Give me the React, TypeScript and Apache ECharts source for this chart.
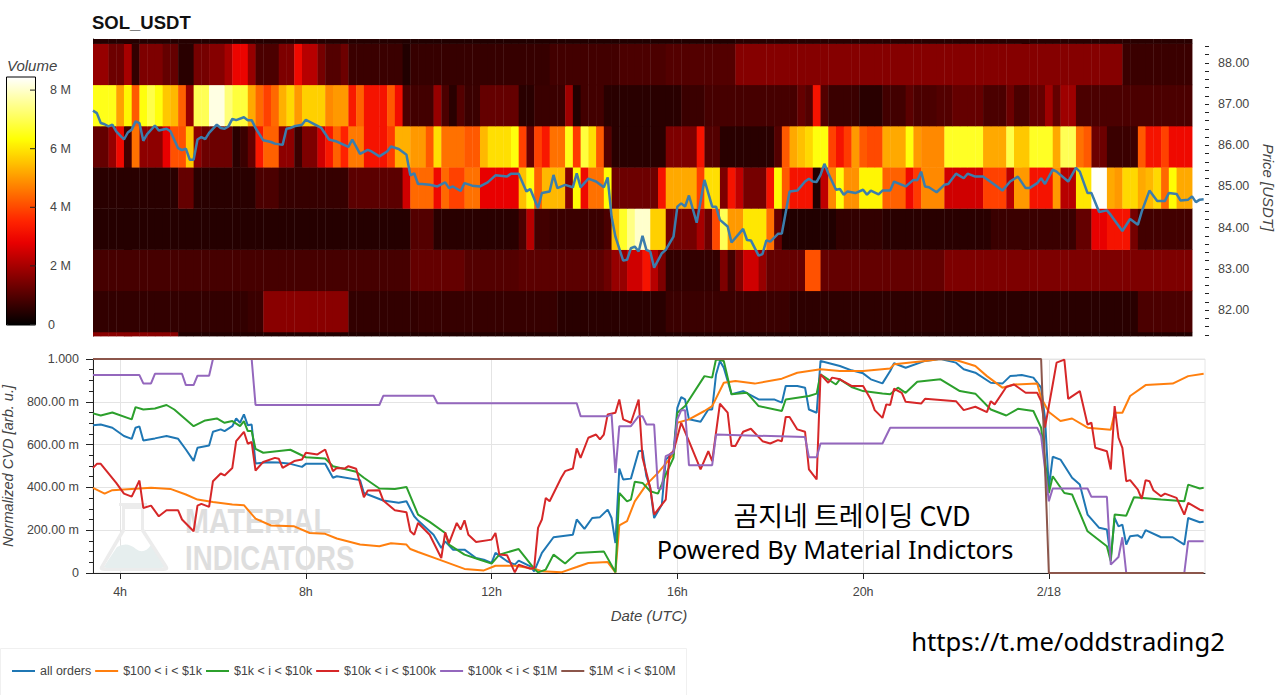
import React, { useEffect, useRef } from "react";
import * as echarts from "echarts";

// x unit: 5-minute sample index (sample 7 = 04:00 UTC). Heat columns span 2 samples (10 minutes).
const lastSample = 287.35;
const tickSamples = [7, 55, 103, 151, 199, 247];
const tickLabels = ["4h", "8h", "12h", "16h", "20h", "2/18"];

const priceTicks = [82, 83, 84, 85, 86, 87, 88];
const priceMinorTicks = [81.4, 81.6, 81.8, 82, 82.2, 82.4, 82.6, 82.8, 83, 83.2, 83.4, 83.6, 83.8, 84, 84.2, 84.4, 84.6, 84.8, 85, 85.2, 85.4, 85.6, 85.8, 86, 86.2, 86.4, 86.6, 86.8, 87, 87.2, 87.4, 87.6, 87.8, 88, 88.2, 88.4];
const priceMin = 81.37;
const priceMax = 88.58;
const priceEdges = [81.37, 81.47, 82.47, 83.47, 84.47, 85.47, 86.47, 87.47, 88.47, 88.58];
const columnCount = 142;

// Volume (millions) per price bin, as [first column, volume] holds.
const row81 = [[0, 1.65], [11, 0.4]];
const row82 = [[0, 0.6], [20, 0.7], [22, 1.65], [33, 0.6], [42, 0.65], [60, 0.5], [74, 0.7], [90, 0.55], [110, 0.5], [135, 0.9]];
const row83 = [[0, 0.85], [41, 1.2], [48, 1.0], [55, 1.1], [66, 1.3], [67, 1.8], [69, 2.5], [71, 3.2], [72, 2.2], [73, 1.5], [74, 0.6], [81, 1.5], [82, 0.8], [83, 1.5], [84, 2.5], [86, 1.8], [87, 1.2], [92, 4.1], [94, 1.2], [110, 1.5]];
const row84 = [[0, 0.45], [41, 1.0], [44, 0.5], [55, 0.9], [56, 2.2], [57, 0.8], [59, 0.7], [66, 0.9], [67, 5.5], [68, 6.6], [69, 7.4], [70, 8.0], [72, 5.7], [74, 1.4], [78, 2.0], [79, 1.3], [80, 4.0], [81, 7.0], [82, 5.0], [84, 6.0], [87, 4.5], [88, 1.2], [89, 0.4], [96, 0.6], [102, 0.5], [116, 0.7], [127, 1.2], [129, 2.8], [131, 3.2], [134, 1.4], [135, 0.8]];
const row85 = [[0, 0.5], [11, 1.2], [13, 0.5], [21, 0.9], [24, 0.65], [33, 1.1], [40, 2.5], [41, 4.4], [44, 3.0], [45, 4.4], [46, 3.9], [48, 4.5], [50, 2.8], [55, 5.5], [56, 6.4], [57, 4.3], [58, 5.4], [61, 1.6], [62, 6.3], [63, 3.0], [64, 4.5], [66, 6.3], [67, 1.3], [73, 3.2], [74, 5.2], [78, 3.9], [79, 5.9], [81, 1.5], [82, 3.2], [83, 2.3], [84, 1.4], [87, 3.2], [88, 6.3], [89, 4.2], [90, 3.2], [93, 0.4], [94, 2.3], [95, 4.8], [96, 6.4], [97, 4.9], [99, 6.2], [102, 4.3], [105, 3.0], [106, 3.8], [107, 4.8], [110, 2.5], [115, 3.9], [118, 2.2], [119, 5.0], [121, 3.2], [124, 5.0], [125, 2.2], [127, 6.0], [129, 8.4], [131, 5.2], [132, 5.0], [133, 5.8], [135, 5.2], [136, 5.4], [137, 5.8], [138, 4.4], [139, 6.3], [140, 5.2]];
const row86 = [[0, 1.2], [2, 1.8], [3, 3.0], [4, 0.8], [5, 4.5], [6, 1.7], [9, 2.8], [10, 4.1], [12, 5.6], [13, 1.7], [14, 1.3], [18, 0.5], [19, 0.7], [20, 1.2], [21, 3.3], [22, 4.3], [24, 1.7], [26, 0.7], [27, 1.5], [29, 2.5], [30, 3.3], [31, 4.3], [32, 3.5], [33, 4.6], [35, 3.2], [38, 3.8], [39, 5.3], [41, 5.0], [43, 4.2], [44, 5.9], [45, 4.5], [48, 4.2], [50, 5.4], [51, 5.9], [54, 6.4], [55, 3.9], [56, 1.2], [57, 3.9], [58, 3.3], [59, 4.5], [61, 6.5], [62, 3.8], [63, 6.8], [64, 5.9], [65, 4.2], [66, 1.0], [67, 0.5], [74, 1.5], [78, 3.2], [79, 1.0], [81, 0.5], [88, 1.0], [89, 4.2], [90, 5.2], [91, 5.5], [92, 5.8], [93, 6.4], [95, 3.9], [96, 3.2], [97, 3.8], [98, 5.0], [99, 4.2], [100, 4.0], [102, 5.2], [105, 6.4], [106, 5.0], [107, 4.8], [110, 6.6], [115, 5.2], [118, 6.9], [119, 5.6], [121, 6.6], [124, 5.2], [125, 7.0], [127, 4.5], [128, 4.2], [129, 1.3], [131, 0.7], [135, 4.2], [136, 3.2], [138, 3.9], [139, 3.0]];
const row87 = [[0, 6.5], [3, 5.1], [4, 6.2], [5, 4.2], [6, 6.4], [7, 6.9], [8, 6.4], [9, 5.6], [10, 5.4], [11, 4.3], [12, 1.8], [13, 7.0], [15, 8.2], [17, 7.3], [18, 6.8], [20, 5.2], [21, 4.4], [22, 3.9], [23, 4.4], [24, 5.3], [25, 5.8], [26, 5.0], [27, 5.7], [30, 4.8], [31, 5.0], [33, 3.3], [34, 4.3], [35, 3.2], [38, 4.2], [39, 3.1], [40, 0.9], [41, 0.8], [44, 1.8], [45, 0.9], [46, 0.5], [47, 1.0], [48, 0.7], [50, 1.2], [55, 0.5], [57, 0.7], [61, 1.9], [62, 0.4], [63, 0.8], [66, 0.5], [76, 0.7], [79, 0.85], [91, 1.2], [92, 1.0], [93, 3.2], [94, 1.0], [95, 0.7], [99, 0.5], [102, 0.8], [105, 1.1], [106, 0.9], [109, 1.0], [111, 1.2], [115, 0.9], [118, 1.3], [119, 0.9], [121, 1.2], [123, 1.9], [124, 1.2], [125, 1.9], [127, 0.9]];
const row88 = [[0, 1.8], [2, 1.3], [4, 2.0], [5, 0.6], [6, 1.5], [9, 1.2], [11, 0.5], [13, 1.4], [15, 1.6], [17, 2.0], [18, 2.9], [20, 1.8], [21, 0.9], [24, 1.5], [26, 3.0], [27, 2.2], [29, 1.4], [30, 1.0], [32, 1.3], [33, 0.7], [40, 0.4], [41, 0.65], [59, 0.8], [68, 0.9], [74, 1.0], [83, 1.6], [133, 0.7]];
const row89 = [[0, 0.45], [40, 0.4], [83, 0.5]];
const heatRows = [row81, row82, row83, row84, row85, row86, row87, row88, row89];

const priceT = [0, 1, 2, 3, 4, 5, 6, 8, 9, 10, 11, 12, 13, 14, 16, 17, 19, 20, 22, 23, 24, 25, 26, 27, 28, 29, 30, 32, 33, 34, 35, 36, 37, 39, 40, 41, 42, 44, 46, 47, 49, 50, 51, 52, 53, 54, 55, 57, 59, 61, 63, 66, 67, 69, 71, 72, 74, 76, 77, 79, 81, 82, 83, 84, 85, 87, 89, 91, 92, 93, 95, 96, 98, 100, 102, 104, 107, 108, 110, 112, 113, 115, 116, 118, 119, 120, 122, 124, 125, 126, 128, 130, 132, 133, 134, 135, 137, 138, 139, 140, 141, 142, 143, 144, 145, 147, 148, 150, 151, 152, 153, 154, 156, 158, 160, 161, 162, 164, 165, 168, 169, 170, 172, 173, 174, 175, 177, 178, 180, 182, 184, 185, 186, 187, 188, 189, 190, 192, 193, 194, 195, 197, 199, 200, 201, 203, 204, 206, 207, 210, 212, 213, 214, 215, 216, 218, 220, 221, 223, 225, 226, 228, 230, 233, 235, 237, 239, 241, 242, 244, 245, 246, 248, 249, 252, 254, 255, 257, 258, 260, 262, 263, 266, 268, 270, 271, 273, 275, 277, 278, 280, 281, 283, 284, 285, 286, 287];
const priceV = [86.84, 86.78, 86.54, 86.51, 86.46, 86.5, 86.34, 86.14, 86.31, 86.38, 86.58, 86.54, 86.11, 86.27, 86.48, 86.36, 86.4, 86.34, 85.93, 85.88, 85.92, 85.65, 85.65, 86.14, 86.2, 86.15, 86.3, 86.5, 86.42, 86.4, 86.46, 86.64, 86.61, 86.68, 86.61, 86.61, 86.42, 86.12, 86.08, 86.04, 86.01, 86.4, 86.42, 86.46, 86.48, 86.5, 86.62, 86.52, 86.42, 86.14, 86.09, 85.96, 86.14, 85.79, 85.89, 85.85, 85.73, 85.85, 85.97, 85.91, 85.77, 85.27, 85.32, 85.06, 85.06, 85.04, 85.0, 85.1, 84.96, 85.0, 84.89, 85.08, 85.02, 85.0, 85.1, 85.27, 85.24, 85.31, 85.31, 84.88, 84.94, 84.47, 84.84, 84.88, 85.28, 84.96, 85.04, 84.98, 85.32, 84.98, 85.19, 85.12, 84.98, 85.22, 84.27, 83.78, 83.2, 83.22, 83.5, 83.54, 83.42, 83.8, 83.46, 83.42, 83.03, 83.38, 83.46, 83.78, 84.51, 84.59, 84.51, 84.78, 84.12, 85.16, 84.51, 84.51, 84.19, 84.03, 83.64, 83.97, 83.7, 83.69, 83.32, 83.36, 83.69, 83.66, 83.85, 83.86, 84.88, 84.9, 85.12, 85.19, 85.12, 85.11, 85.28, 85.55, 85.32, 84.92, 84.94, 84.8, 84.88, 84.84, 84.92, 84.8, 84.9, 84.81, 84.9, 84.9, 85.12, 85.0, 85.16, 85.15, 85.36, 85.0, 84.98, 84.86, 85.04, 85.06, 85.31, 85.2, 85.31, 85.24, 85.24, 85.04, 84.9, 85.12, 85.24, 84.96, 84.96, 85.08, 85.2, 85.06, 85.41, 85.36, 85.12, 85.45, 85.36, 84.84, 84.84, 84.38, 84.42, 84.31, 83.92, 84.21, 84.07, 84.39, 84.9, 84.65, 84.65, 84.84, 84.82, 84.66, 84.68, 84.76, 84.62, 84.68, 84.69];

const allOrdersT = [0, 2, 5, 8, 10, 11, 12, 13, 16, 19, 22, 24, 26, 27, 30, 31, 33, 34, 36, 37, 38, 39, 40, 41, 42, 45, 48, 51, 54, 55, 60, 62, 63, 69, 70, 75, 79, 81, 83, 84, 88, 90, 91, 93, 96, 99, 101, 103, 104, 107, 109, 110, 113, 114, 116, 119, 121, 124, 125, 127, 129, 131, 133, 134, 135, 136, 137, 139, 141, 142, 143, 144, 145, 147, 148, 150, 151, 152, 153, 154, 157, 159, 160, 161, 162, 163, 165, 168, 172, 176, 178, 179, 182, 184, 185, 187, 188, 193, 196, 199, 201, 204, 206, 207, 210, 215, 219, 223, 225, 228, 232, 235, 237, 240, 243, 245, 246, 247, 248, 250, 253, 255, 257, 260, 262, 263, 264, 265, 266, 267, 268, 270, 271, 272, 276, 279, 282, 283, 286, 287];
const allOrdersV = [0.69, 0.694, 0.679, 0.64, 0.627, 0.679, 0.685, 0.619, 0.629, 0.64, 0.627, 0.577, 0.524, 0.585, 0.596, 0.66, 0.671, 0.663, 0.686, 0.722, 0.702, 0.741, 0.69, 0.694, 0.512, 0.518, 0.516, 0.51, 0.496, 0.51, 0.51, 0.445, 0.452, 0.434, 0.374, 0.339, 0.328, 0.335, 0.265, 0.245, 0.179, 0.117, 0.148, 0.109, 0.109, 0.07, 0.062, 0.047, 0.094, 0.055, 0.039, 0.058, 0.031, 0.008, 0.094, 0.167, 0.172, 0.179, 0.25, 0.206, 0.257, 0.261, 0.296, 0.257, 0.14, 0.488, 0.437, 0.441, 0.569, 0.573, 0.452, 0.398, 0.257, 0.32, 0.53, 0.562, 0.772, 0.822, 0.811, 0.718, 0.707, 0.764, 0.764, 0.928, 0.991, 0.959, 0.835, 0.85, 0.811, 0.811, 0.796, 0.874, 0.874, 0.866, 0.764, 0.749, 0.991, 0.967, 0.947, 0.933, 0.905, 0.886, 0.944, 0.98, 0.959, 0.991, 1.0, 0.983, 0.952, 0.936, 0.889, 0.885, 0.92, 0.925, 0.913, 0.866, 0.725, 0.398, 0.543, 0.53, 0.445, 0.413, 0.273, 0.211, 0.203, 0.07, 0.257, 0.218, 0.226, 0.133, 0.172, 0.176, 0.164, 0.2, 0.167, 0.167, 0.133, 0.257, 0.237, 0.239];

const smallT = [0, 3, 5, 10, 15, 20, 24, 27, 31, 36, 39, 42, 46, 52, 56, 60, 63, 69, 74, 77, 81, 82, 84, 90, 96, 101, 104, 109, 114, 116, 121, 125, 128, 133, 135, 136, 138, 140, 143, 146, 150, 151, 154, 158, 160, 163, 166, 171, 178, 182, 188, 193, 199, 206, 207, 215, 219, 223, 228, 231, 235, 238, 244, 245, 247, 250, 253, 257, 263, 264, 266, 268, 272, 279, 283, 287];
const smallV = [0.398, 0.371, 0.387, 0.393, 0.398, 0.393, 0.367, 0.343, 0.332, 0.32, 0.317, 0.254, 0.222, 0.218, 0.187, 0.183, 0.161, 0.133, 0.125, 0.139, 0.133, 0.112, 0.098, 0.059, 0.019, 0.012, 0.034, 0.034, 0.02, 0.008, 0.003, 0.028, 0.047, 0.051, 0.003, 0.222, 0.242, 0.335, 0.413, 0.468, 0.554, 0.702, 0.718, 0.757, 0.78, 0.889, 0.897, 0.885, 0.908, 0.936, 0.952, 0.944, 0.944, 0.956, 0.975, 0.991, 1.0, 0.995, 0.967, 0.92, 0.866, 0.881, 0.885, 0.819, 0.752, 0.71, 0.722, 0.679, 0.669, 0.749, 0.749, 0.827, 0.878, 0.885, 0.92, 0.931];

const mediumT = [0, 2, 5, 10, 11, 13, 16, 19, 21, 26, 29, 32, 34, 36, 38, 39, 40, 41, 42, 44, 51, 55, 60, 62, 68, 70, 74, 78, 81, 84, 87, 91, 92, 96, 100, 103, 105, 110, 114, 115, 117, 119, 122, 125, 132, 135, 136, 138, 139, 140, 142, 144, 146, 148, 150, 151, 153, 158, 160, 161, 163, 165, 169, 172, 178, 179, 185, 187, 188, 192, 193, 196, 199, 204, 206, 208, 210, 213, 219, 224, 228, 232, 236, 239, 243, 245, 247, 248, 251, 253, 257, 262, 263, 264, 267, 269, 276, 282, 283, 286, 287];
const mediumV = [0.746, 0.736, 0.75, 0.718, 0.775, 0.764, 0.769, 0.785, 0.764, 0.686, 0.713, 0.722, 0.702, 0.71, 0.686, 0.71, 0.663, 0.663, 0.58, 0.562, 0.576, 0.541, 0.535, 0.499, 0.473, 0.445, 0.395, 0.393, 0.402, 0.273, 0.239, 0.187, 0.133, 0.086, 0.062, 0.044, 0.086, 0.112, 0.02, 0.003, 0.016, 0.086, 0.044, 0.094, 0.101, 0.003, 0.374, 0.335, 0.343, 0.426, 0.421, 0.382, 0.371, 0.46, 0.538, 0.749, 0.78, 0.92, 0.913, 1.0, 0.991, 0.835, 0.842, 0.78, 0.757, 0.811, 0.827, 0.838, 0.928, 0.881, 0.905, 0.869, 0.85, 0.839, 0.835, 0.866, 0.842, 0.894, 0.905, 0.85, 0.838, 0.764, 0.736, 0.767, 0.757, 0.679, 0.374, 0.452, 0.374, 0.367, 0.195, 0.125, 0.055, 0.273, 0.268, 0.354, 0.343, 0.335, 0.413, 0.395, 0.398];

const largeT = [0, 1, 2, 6, 8, 10, 12, 13, 15, 17, 19, 22, 23, 26, 27, 28, 30, 31, 33, 34, 36, 37, 39, 40, 41, 42, 44, 47, 48, 49, 52, 54, 55, 58, 60, 62, 63, 65, 66, 68, 70, 71, 74, 75, 78, 81, 82, 83, 84, 87, 90, 91, 92, 94, 95, 96, 97, 99, 103, 104, 105, 107, 109, 110, 113, 114, 115, 116, 117, 118, 121, 122, 124, 125, 126, 128, 130, 131, 132, 133, 135, 136, 137, 139, 141, 142, 144, 145, 148, 149, 150, 152, 154, 157, 159, 160, 162, 164, 165, 166, 168, 170, 173, 175, 177, 178, 179, 180, 182, 184, 185, 187, 188, 190, 191, 193, 196, 199, 201, 202, 204, 205, 206, 207, 209, 210, 214, 215, 223, 225, 228, 231, 232, 233, 236, 238, 241, 244, 245, 246, 248, 249, 251, 252, 255, 257, 258, 259, 262, 263, 264, 265, 266, 267, 268, 270, 271, 272, 273, 274, 276, 277, 280, 282, 283, 286, 287];
const largeV = [0.491, 0.51, 0.51, 0.421, 0.371, 0.357, 0.432, 0.304, 0.315, 0.265, 0.293, 0.293, 0.25, 0.195, 0.315, 0.323, 0.309, 0.429, 0.465, 0.456, 0.491, 0.616, 0.66, 0.604, 0.612, 0.479, 0.519, 0.538, 0.534, 0.491, 0.523, 0.53, 0.562, 0.554, 0.577, 0.476, 0.491, 0.488, 0.499, 0.487, 0.354, 0.385, 0.387, 0.339, 0.293, 0.284, 0.195, 0.179, 0.234, 0.179, 0.07, 0.19, 0.14, 0.234, 0.203, 0.246, 0.179, 0.145, 0.156, 0.187, 0.086, 0.083, 0.003, 0.039, 0.02, 0.023, 0.211, 0.25, 0.351, 0.335, 0.445, 0.476, 0.488, 0.582, 0.538, 0.632, 0.647, 0.624, 0.647, 0.741, 0.749, 0.811, 0.718, 0.702, 0.811, 0.538, 0.398, 0.273, 0.343, 0.554, 0.569, 0.702, 0.616, 0.484, 0.569, 0.523, 0.791, 0.749, 0.593, 0.593, 0.66, 0.674, 0.616, 0.605, 0.621, 0.616, 0.729, 0.729, 0.671, 0.66, 0.484, 0.437, 0.928, 0.889, 0.913, 0.905, 0.874, 0.874, 0.811, 0.761, 0.725, 0.788, 0.785, 0.861, 0.842, 0.8, 0.792, 0.814, 0.803, 0.761, 0.777, 0.752, 0.803, 0.788, 0.869, 0.881, 0.842, 0.842, 0.803, 0.679, 0.881, 0.983, 0.997, 0.814, 0.85, 0.694, 0.702, 0.585, 0.569, 0.484, 0.78, 0.632, 0.585, 0.429, 0.434, 0.39, 0.346, 0.434, 0.429, 0.387, 0.359, 0.371, 0.351, 0.273, 0.328, 0.296, 0.292];

const whaleT = [0, 12, 13, 15, 16, 23, 24, 26, 27, 30, 31, 41, 42, 74, 75, 88, 89, 125, 126, 133, 134, 135, 136, 139, 141, 142, 143, 145, 146, 147, 148, 150, 151, 152, 153, 154, 160, 161, 184, 185, 187, 188, 204, 206, 244, 245, 247, 248, 257, 258, 262, 263, 265, 266, 267, 282, 283, 287];
const whaleV = [0.925, 0.925, 0.886, 0.886, 0.931, 0.931, 0.878, 0.878, 0.922, 0.922, 1.0, 1.0, 0.785, 0.785, 0.828, 0.828, 0.793, 0.793, 0.733, 0.733, 0.741, 0.468, 0.686, 0.686, 0.733, 0.733, 0.694, 0.694, 0.395, 0.395, 0.546, 0.562, 0.718, 0.761, 0.761, 0.504, 0.504, 0.647, 0.635, 0.541, 0.541, 0.605, 0.605, 0.679, 0.679, 0.64, 0.335, 0.395, 0.395, 0.356, 0.356, 0.039, 0.075, 0.167, 0, 0, 0.148, 0.148];

const megaT = [0, 245, 247, 287];
const megaV = [1, 1, 0, 0];

const seriesNames = ["all orders", "$100 < i < $1k", "$1k < i < $10k", "$10k < i < $100k", "$100k < i < $1M", "$1M < i < $10M"];
const seriesColors = ["#1f77b4", "#ff7f0e", "#2ca02c", "#d62728", "#9467bd", "#8c564b"];
const seriesT = [allOrdersT, smallT, mediumT, largeT, whaleT, megaT];
const seriesV = [allOrdersV, smallV, mediumV, largeV, whaleV, megaV];

const colorbarTicks = [0, 2, 4, 6, 8];
const hotStops = ["#000000", "#3a0000", "#750000", "#af0000", "#e90000", "#ff2300", "#ff5a00", "#ff9200", "#ffca00", "#ffff04", "#ffff58", "#ffffab", "#ffffff"];

const SANS = '"Liberation Sans", Arial, sans-serif';
const INK = "#444444";

const flaskD = "M22 0 L50 0 L50 3 L47 3 L47 26 L70 62 Q74 68 66 68 L8 68 Q0 68 4 62 L25 26 L25 3 L22 3 Z M28 6 L28 28 L8 62 Q6 65 10 65 L64 65 Q68 65 66 62 L44 28 L44 6 Z";
const mountainD = "M8 62 L20 44 Q30 38 39 46 Q47 52 54 42 L68 62 Q69 65 64 65 L10 65 Q5 65 8 62 Z";

export default function App() {
  const ref = useRef<HTMLDivElement>(null);
  useEffect(() => {
    if (!ref.current) return;
    echarts.graphic.registerShape("flaskOutline", echarts.graphic.extendPath(flaskD, {}) as any);
    echarts.graphic.registerShape("flaskFill", echarts.graphic.extendPath(mountainD, {}) as any);
    const chart = echarts.init(ref.current, undefined, { renderer: "svg" });

    const heatData: number[][] = [];
    heatRows.forEach((runs, r) => {
      for (let c = 0; c < columnCount; c++) {
        let vol = runs[0][1];
        for (const run of runs) if (run[0] <= c) vol = run[1];
        heatData.push([c * 2, priceEdges[r], priceEdges[r + 1], vol]);
      }
    });

    const axisText = { color: INK, fontFamily: SANS, fontSize: 12.5 };
    const nameText = { color: INK, fontFamily: SANS, fontSize: 15, fontStyle: "italic" as const };
    const cvdLabel = (v: number) => (v === 0 ? "0" : v === 1 ? "1.000" : `${(v * 1000).toFixed(2)} m`);

    const graphic: any[] = [
      { type: "text", x: 92, y: 13, style: { text: "SOL_USDT", font: `bold 18.5px ${SANS}`, fill: "#111" } },
      { type: "text", x: 7, y: 58, style: { text: "Volume", font: `italic 15px ${SANS}`, fill: INK } },
      { type: "rect", shape: { x: 6.5, y: 77, width: 29, height: 248 }, style: { fill: "none", stroke: "#000", lineWidth: 1 }, z: 10 },
      { type: "rect", shape: { x: 0.5, y: 648.5, width: 686, height: 60 }, style: { fill: "#fff", stroke: "#f0f0f0", lineWidth: 1 }, z: -1 },
      { type: "flaskFill", x: 97, y: 503, style: { fill: "#e6eeee" }, z: 1 },
      { type: "flaskOutline", x: 97, y: 503, style: { fill: "#ececec" }, z: 1 },
      { type: "text", x: 185, y: 503, scaleX: 0.82, style: { text: "MATERIAL", font: `bold 35px ${SANS}`, fill: "#dedede" }, z: 1 },
      { type: "text", x: 185, y: 540, scaleX: 0.79, style: { text: "INDICATORS", font: `bold 35px ${SANS}`, fill: "#dedede" }, z: 1 },
      { type: "text", x: 852, y: 514, style: { text: "곰지네 트레이딩 CVD", font: `27px "Noto Sans CJK KR"`, fill: "#000", textAlign: "center", textVerticalAlign: "middle" }, z: 50 },
      { type: "text", x: 835, y: 549, style: { text: "Powered By Material Indictors", font: `25.3px "Noto Sans", "Open Sans"`, fill: "#000", textAlign: "center", textVerticalAlign: "middle" }, z: 50 },
      { type: "text", x: 1068, y: 641, style: { text: "https://t.me/oddstrading2", font: `25.6px "Noto Sans", "Open Sans"`, fill: "#000", textAlign: "center", textVerticalAlign: "middle" }, z: 50 },
    ];
    colorbarTicks.forEach((m) => {
      const y = 324.5 - m * 29.3;
      graphic.push({ type: "line", shape: { x1: 30, y1: y, x2: 36, y2: y }, style: { stroke: "#222", lineWidth: 1 }, z: 11 });
      graphic.push({
        type: "text",
        x: m === 0 ? 48 : 50,
        y,
        style: { text: m === 0 ? "0" : `${m} M`, font: `12.5px ${SANS}`, fill: INK, textVerticalAlign: "middle" },
      });
    });

    const option: any = {
      animation: false,
      backgroundColor: "#fff",
      grid: [
        { left: 93, right: 75, top: 39, height: 297, show: false, outerBoundsMode: "none" },
        { left: 93, right: 75, top: 359, height: 214, show: true, borderColor: "#e6e6e6", borderWidth: 1, outerBoundsMode: "none" },
      ],
      xAxis: [
        { type: "value", gridIndex: 0, min: 0, max: lastSample, show: false },
        {
          type: "value",
          gridIndex: 1,
          min: 0,
          max: lastSample,
          name: "Date (UTC)",
          nameLocation: "middle",
          nameGap: 35,
          nameTextStyle: nameText,
          axisLine: { show: true, lineStyle: { color: "#222", width: 1 }, onZero: false },
          axisTick: { show: true, customValues: tickSamples, length: 6, lineStyle: { color: "#222" } },
          axisLabel: {
            ...axisText,
            customValues: tickSamples,
            margin: 12,
            formatter: (v: number) => tickLabels[tickSamples.indexOf(Math.round(v))] ?? "",
          },
          splitLine: { show: true, lineStyle: { color: "#e4e4e4", width: 1 } },
          minorTick: { show: false },
        },
      ],
      yAxis: [
        {
          type: "value",
          gridIndex: 0,
          min: priceMin,
          max: priceMax,
          position: "right",
          name: "Price [USDT]",
          nameLocation: "middle",
          nameRotate: -90,
          nameGap: 56,
          nameTextStyle: nameText,
          axisLine: { show: true, lineStyle: { color: "#222", width: 1 } },
          axisTick: { show: true, customValues: priceTicks, length: 7, lineStyle: { color: "#222" } },
          axisLabel: { ...axisText, customValues: priceTicks, margin: 13, formatter: (v: number) => v.toFixed(2) },
          splitLine: { show: false },
        },
        {
          type: "value",
          gridIndex: 0,
          min: priceMin,
          max: priceMax,
          position: "right",
          axisLine: { show: false },
          axisTick: { show: true, customValues: priceMinorTicks, length: 4, lineStyle: { color: "#222" } },
          axisLabel: { show: false },
          splitLine: { show: false },
        },
        {
          type: "value",
          gridIndex: 1,
          min: 0,
          max: 1,
          interval: 0.2,
          name: "Normalized CVD [arb. u.]",
          nameLocation: "middle",
          nameGap: 71,
          nameTextStyle: { ...nameText, fontSize: 14.6 },
          axisLine: { show: true, lineStyle: { color: "#222", width: 1 } },
          axisTick: { show: true, length: 7, lineStyle: { color: "#222" } },
          minorTick: { show: true, splitNumber: 4, length: 4, lineStyle: { color: "#222" } },
          axisLabel: { ...axisText, margin: 14, formatter: cvdLabel },
          splitLine: { show: true, lineStyle: { color: "#e4e4e4", width: 1 } },
        },
      ],
      visualMap: {
        type: "continuous",
        seriesIndex: 0,
        dimension: 3,
        min: 0,
        max: 8.43,
        calculable: false,
        realtime: false,
        hoverLink: false,
        left: 6,
        top: 77,
        padding: 0,
        itemWidth: 30,
        itemHeight: 248,
        inRange: { color: hotStops },
        textStyle: { fontSize: 0 },
      },
      legend: {
        left: 12,
        top: 665,
        padding: 0,
        icon: "rect",
        itemWidth: 23,
        itemHeight: 2,
        itemGap: 4,
        data: seriesNames,
        textStyle: { color: INK, fontFamily: SANS, fontSize: 12.45 },
      },
      graphic,
      series: [
        {
          type: "custom",
          name: "Volume",
          xAxisIndex: 0,
          yAxisIndex: 0,
          data: heatData,
          encode: { x: 0, y: [1, 2] },
          silent: true,
          renderItem: (_: any, api: any) => {
            const a = api.coord([api.value(0), api.value(2)]);
            const b = api.coord([api.value(0) + 2, api.value(1)]);
            return {
              type: "rect",
              shape: { x: a[0], y: a[1], width: b[0] - a[0] + 0.4, height: b[1] - a[1] + 0.4 },
              style: { fill: api.visual("color") },
            };
          },
          z: 1,
        },
        {
          type: "line",
          name: "Price",
          xAxisIndex: 0,
          yAxisIndex: 0,
          data: priceT.map((t, i) => [t, priceV[i]]),
          showSymbol: false,
          symbol: "none",
          lineStyle: { color: "#3b7dac", width: 2.5 },
          z: 5,
        },
        ...seriesNames.map((name, s) => ({
          type: "line",
          name,
          xAxisIndex: 1,
          yAxisIndex: 2,
          data: seriesT[s].map((t, i) => [t, seriesV[s][i]]),
          showSymbol: false,
          symbol: "none",
          color: seriesColors[s],
          lineStyle: { color: seriesColors[s], width: 2 },
          z: 5 + s,
        })),
      ],
    };
    chart.setOption(option);
    return () => chart.dispose();
  }, []);
  return <div ref={ref} style={{ position: "fixed", left: 0, top: 0, width: 1280, height: 695 }} />;
}
